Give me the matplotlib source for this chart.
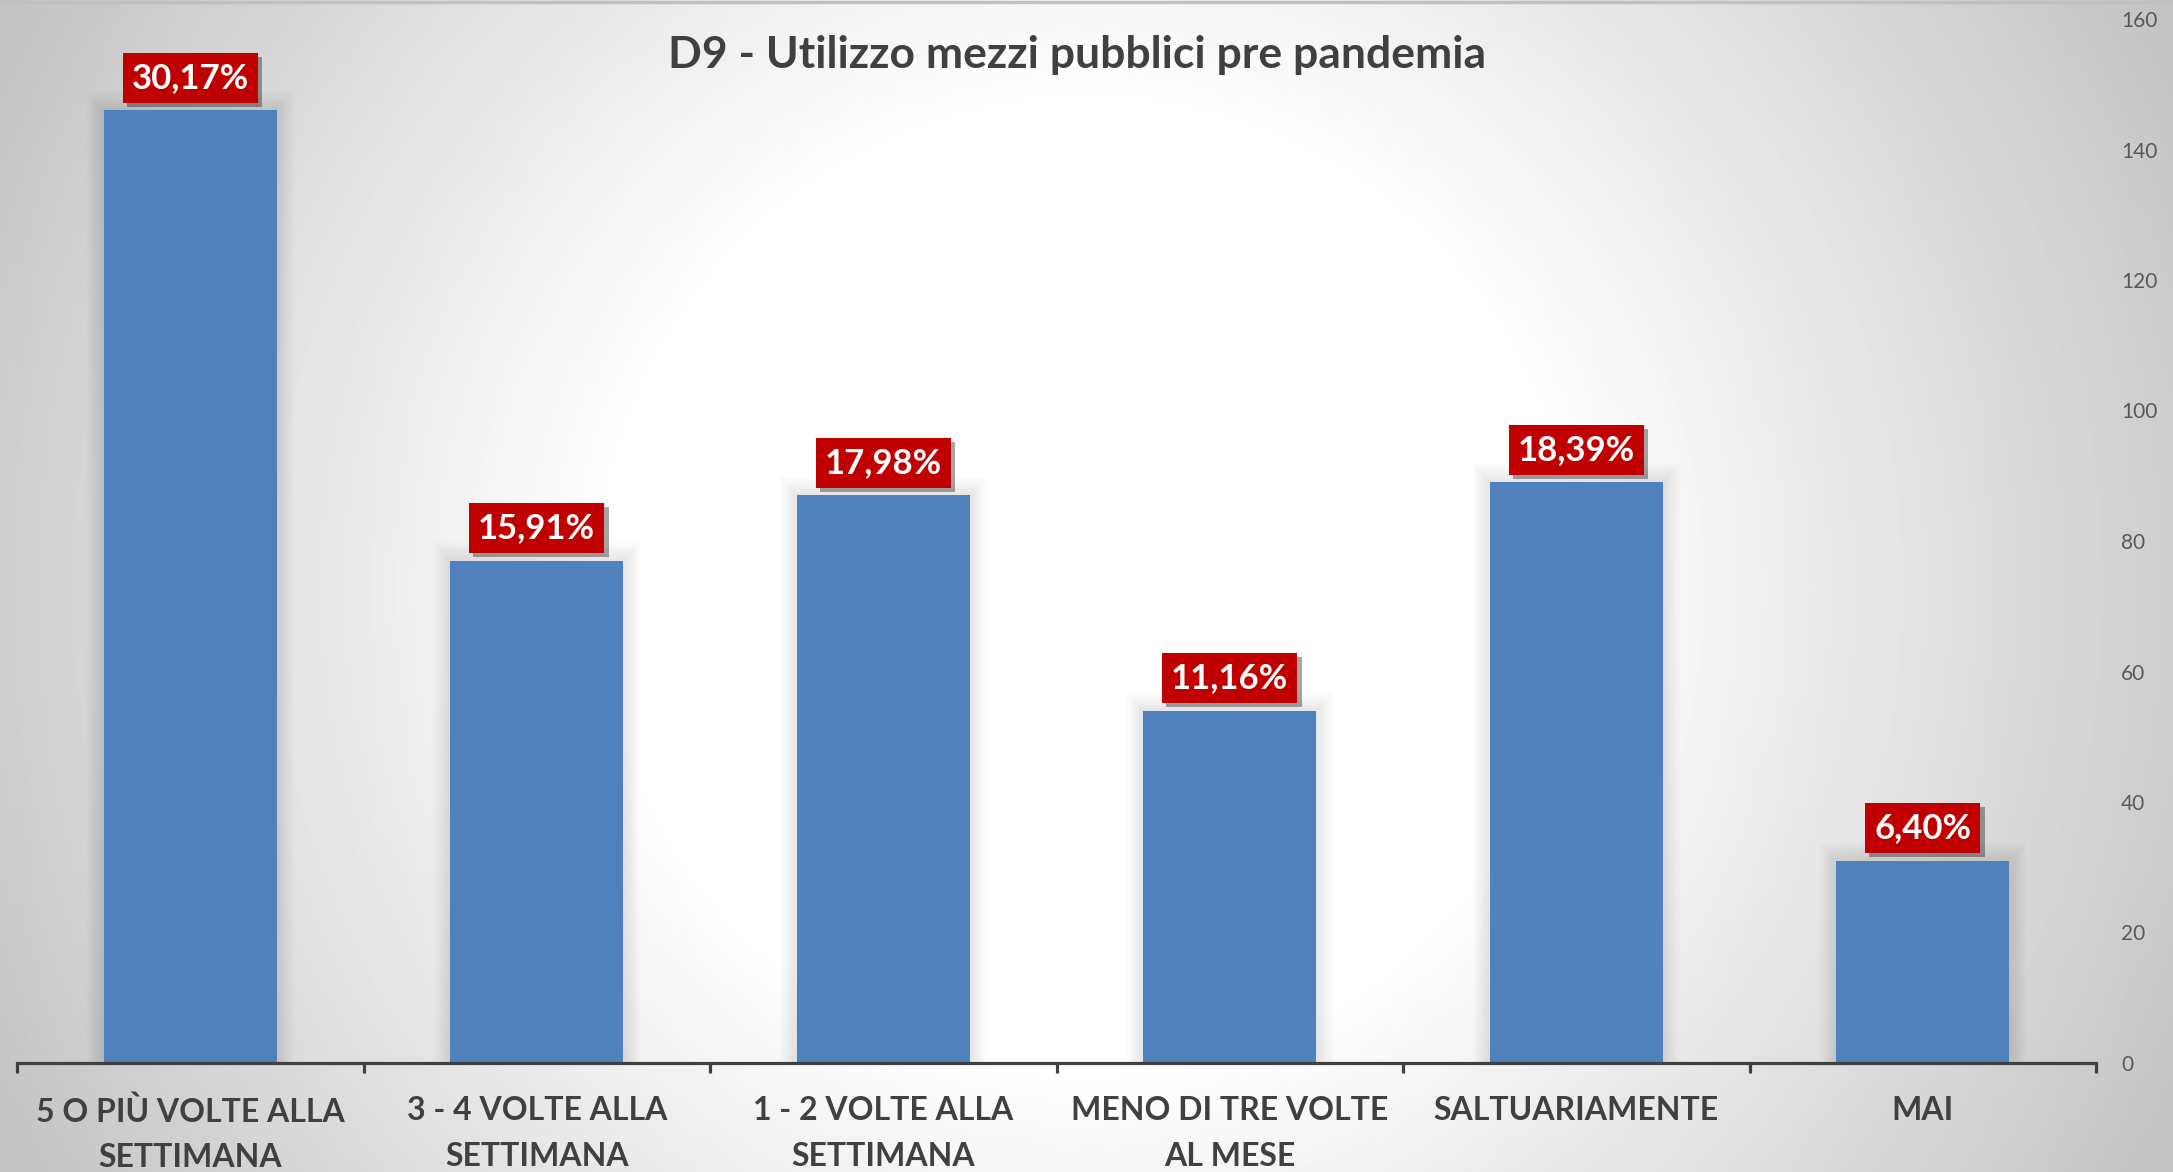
import numpy as np
import matplotlib
matplotlib.use("Agg")
import matplotlib.pyplot as plt
import matplotlib.patheffects as pe
from matplotlib.lines import Line2D

# ---- data ----
categories = ["5 O PIÙ VOLTE ALLA\nSETTIMANA", "3 - 4 VOLTE ALLA\nSETTIMANA",
              "1 - 2 VOLTE ALLA\nSETTIMANA", "MENO DI TRE VOLTE\nAL MESE",
              "SALTUARIAMENTE", "MAI"]
counts = [146, 77, 87, 54, 89, 31]
percentages = [30.17, 15.91, 17.98, 11.16, 18.39, 6.40]
y_ticks = [0, 20, 40, 60, 80, 100, 120, 140, 160]
title = "D9 - Utilizzo mezzi pubblici pre pandemia"

FONT = ["Lato", "DejaVu Sans"]
plt.rcParams["font.family"] = FONT

W, H = 2173, 1172
fig = plt.figure(figsize=(W / 100, H / 100), dpi=100)

# ---- radial gradient background ----
bg = fig.add_axes([0, 0, 1, 1])
bg.set_zorder(-10)
yy, xx = np.mgrid[0:H:2, 0:W:2]
d = np.hypot(xx - 1087, yy - 586)
v = np.clip(255 - np.clip(d - 480, 0, None) * 0.08, 0, 255) / 255
bg.imshow(v, cmap="gray", vmin=0, vmax=1, extent=[0, 1, 0, 1], origin="upper",
          aspect="auto", interpolation="bilinear")
bg.set_xlim(0, 1)
bg.set_ylim(0, 1)
bg.axis("off")
fig.add_artist(Line2D([0, 1], [1 - 1.5 / H, 1 - 1.5 / H], color="#c0c0c0", lw=2.5,
                      transform=fig.transFigure))

# ---- main axes ----
ax = fig.add_axes([17 / W, 1 - 1063 / H, (2096 - 17) / W, (1063 - 19) / H])
ax.patch.set_alpha(0)
x = np.arange(len(categories))

# soft glow behind the bars
for i in range(1, 9):
    ax.bar(x, np.array(counts) + i * 0.35, width=0.5 + i * 0.012, color="black",
           alpha=0.012, zorder=1, linewidth=0)
ax.bar(x, counts, width=0.5, color="#4F81BD", zorder=3, linewidth=0)

ax.set_xlim(-0.5, len(categories) - 0.5)
ax.set_ylim(0, 160)
for s in ("top", "left", "right"):
    ax.spines[s].set_visible(False)
ax.spines["bottom"].set_linewidth(2.3)
ax.spines["bottom"].set_color("#404040")
ax.spines["bottom"].set_zorder(4)

ax.yaxis.tick_right()
ax.set_yticks(y_ticks)
ax.tick_params(axis="y", length=0, pad=18, labelsize=15, labelcolor="#595959")

ax.set_xticks(x)
ax.set_xticklabels(categories, fontsize=23, fontweight="bold", color="#404040",
                   linespacing=1.68)
ax.tick_params(axis="x", which="major", length=0, pad=24)
ax.set_xticks(np.arange(-0.5, len(categories), 1), minor=True)
ax.tick_params(axis="x", which="minor", length=7.5, width=2.3, color="#404040",
               direction="out")

for xi, c, p in zip(x, counts, percentages):
    lbl = f"{p:.2f}%".replace(".", ",")
    t = ax.annotate(lbl, xy=(xi, c), xytext=(0, 12), textcoords="offset points",
                    ha="center", va="bottom", fontsize=25, fontweight="bold",
                    color="white", zorder=6,
                    bbox=dict(boxstyle="square,pad=0.26", fc="#C00000", ec="none"))
    t.get_bbox_patch().set_path_effects([
        pe.withSimplePatchShadow(offset=(3, -3), shadow_rgbFace="black", alpha=0.35),
        pe.Normal()])

fig.text(1077 / W, 1 - 55 / H, title, ha="center", va="center", fontsize=32,
         fontweight="bold", color="#404040")

fig.savefig("out.png", dpi=100)
